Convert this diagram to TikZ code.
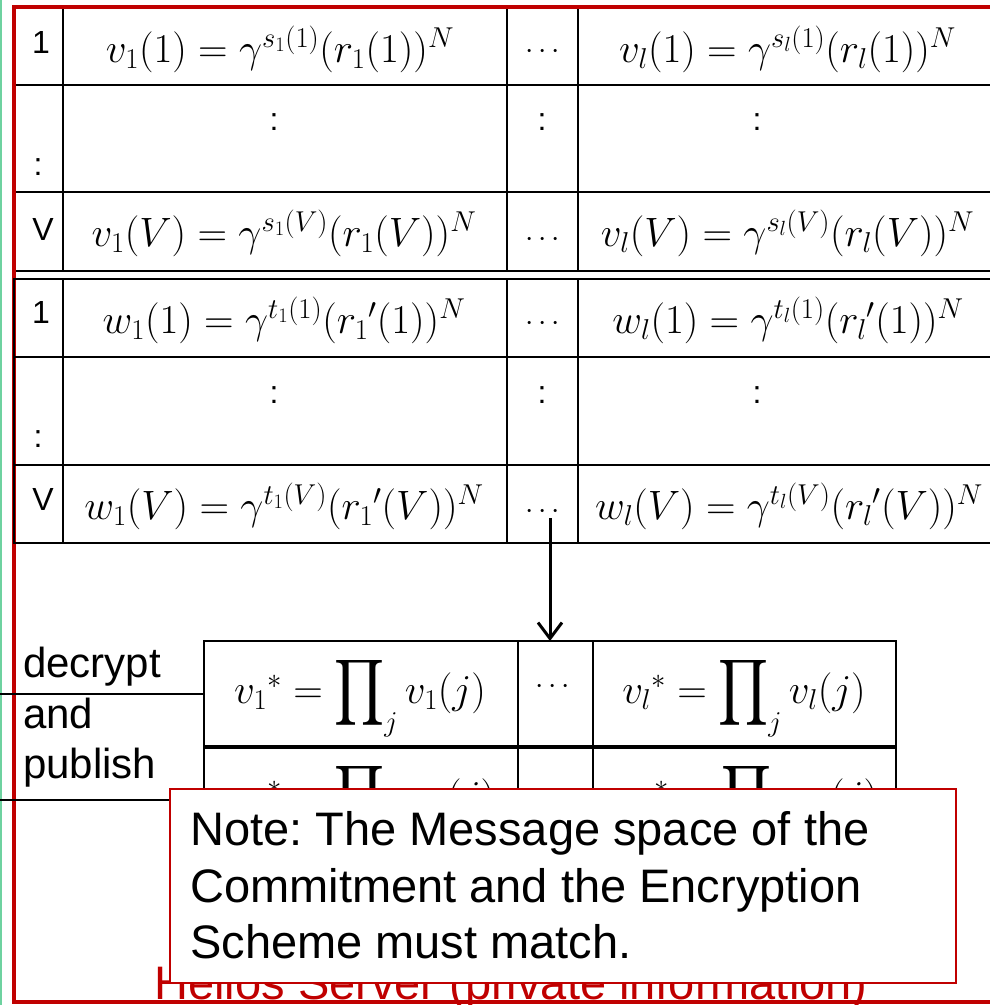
\RequirePackage{fix-cm}
\documentclass[tikz,border=0pt]{standalone}
\usepackage[no-math]{fontspec}
\setmainfont{Liberation Sans}
\usepackage{amsmath}
\usepackage{graphicx}
\usetikzlibrary{arrows.meta}
\definecolor{framered}{RGB}{192,0,0}
\definecolor{mint}{RGB}{110,210,160}
\frenchspacing
\newcommand\mkcell[5]{\node[cell,minimum width={#4-#2},minimum height={#5-#3}] (#1) at ({(#2+#4)/2},{(#3+#5)/2}) {};}
\newcommand\Bprod{\mathop{\vcenter{\hbox{\resizebox*{50pt}{74pt}{$\displaystyle\prod$}}}}\nolimits}
\begin{document}
\begin{tikzpicture}[x=1pt,y=-1pt,
  cell/.style={draw=black,line width=2.5pt,inner sep=0pt,outer sep=0pt},
  tbl/.style={font=\fontsize{32}{38}\selectfont,inner sep=0pt,anchor=base},
  mth/.style={font=\fontsize{41}{48}\selectfont,inner sep=0pt,anchor=base},
  dts/.style={font=\fontsize{30}{36}\selectfont,inner sep=0pt,anchor=base},
  lbl/.style={font=\fontsize{42}{50}\selectfont,inner sep=0pt,anchor=base west},
  notetxt/.style={font=\fontsize{47}{57}\selectfont,inner sep=0pt,anchor=base west},
  conn/.style={line width=3pt,-{Straight Barb[length=16pt,width=24pt]}},
  tline/.style={draw=black,line width=2.5pt}]
\useasboundingbox (0,0) rectangle (990,1005);
\clip (0,0) rectangle (990,1005);
% top table
\foreach \r/\ya/\yb in {1/8/85,2/85/192,3/192/271}{
  \foreach \c/\xa/\xb in {1/14/63,2/63/507,3/507/578,4/578/997}{
    \mkcell{A\r\c}{\xa}{\ya}{\xb}{\yb}}}
% red frame
\draw[framered,line width=4pt] (14,6.5) rectangle (1012,1002);
% second table
\foreach \r/\ya/\yb in {1/279/357,2/357/465,3/465/543}{
  \foreach \c/\xa/\xb in {1/14/63,2/63/507,3/507/578,4/578/997}{
    \mkcell{B\r\c}{\xa}{\ya}{\xb}{\yb}}}
% green edge
\draw[mint,line width=2.5pt] (1,0) -- (1,1005);
% bottom table
\foreach \r/\ya/\yb in {1/641/747,2/747/853}{
  \foreach \c/\xa/\xb in {1/204/518,2/518/593,3/593/896}{
    \mkcell{C\r\c}{\xa}{\ya}{\xb}{\yb}}}
\draw[black,line width=4.5pt] (C11.south west) -- (C13.south east);
% left partial lines
\coordinate (L1) at (0,694);
\coordinate (L2) at (0,800);
\draw[tline] (L1) -- (C11.west);
\draw[tline] (L2) -- (C21.west);
% first table texts
\node[tbl] (a1) at (41,53) {1};
\node[tbl] (a2) at (38,175) {:};
\node[tbl] (a3) at (43,240) {V};
\node[mth] (fa12) at (280,62) {$v_1(1)=\gamma^{s_1(1)}(r_1(1))^N$};
\node[dts] (fa13) at (545,58) {$\cdots$};
\node[mth] (fa14) at (787.5,62) {$v_l(1)=\gamma^{s_l(1)}(r_l(1))^N$};
\node[tbl] (fa22) at (274,130) {:};
\node[tbl] (fa23) at (542,130) {:};
\node[tbl] (fa24) at (757,130) {:};
\node[mth] (fa32) at (284,246) {$v_1(V)=\gamma^{s_1(V)}(r_1(V))^N$};
\node[dts] (fa33) at (545,246) {$\cdots$};
\node[mth] (fa34) at (787.5,246) {$v_l(V)=\gamma^{s_l(V)}(r_l(V))^N$};
% second table texts
\node[tbl] (b1) at (41,323) {1};
\node[tbl] (b2) at (38,447) {:};
\node[tbl] (b3) at (43,510) {V};
\node[mth] (fb12) at (284,333) {$w_1(1)=\gamma^{t_1(1)}({r_1}'(1))^N$};
\node[dts] (fb13) at (545,330) {$\cdots$};
\node[mth] (fb14) at (788,333) {$w_l(1)=\gamma^{t_l(1)}({r_l}'(1))^N$};
\node[tbl] (fb22) at (274,403) {:};
\node[tbl] (fb23) at (542,403) {:};
\node[tbl] (fb24) at (757,403) {:};
\node[mth] (fb32) at (284,519) {$w_1(V)=\gamma^{t_1(V)}({r_1}'(V))^N$};
\node[dts] (dB3) at (545,518) {$\cdots$};
\node[mth] (fb34) at (789,519) {$w_l(V)=\gamma^{t_l(V)}({r_l}'(V))^N$};
% bottom table texts
\node[mth] (fc11) at (360,703) {${v_1}^*=\Bprod_j v_1(j)$};
\node[dts] (fc12) at (555,693) {$\cdots$};
\node[mth] (fc13) at (744,703) {${v_l}^*=\Bprod_j v_l(j)$};
\node[mth] (fc21) at (360,809) {${w_1}^*=\Bprod_j w_1(j)$};
\node[mth] (fc23) at (747,809) {${w_l}^*=\Bprod_j w_l(j)$};
% labels left
\node[lbl] (dec) at (23,677) {decrypt};
\node[lbl] (and) at (23,728) {and};
\node[lbl] (pub) at (23,778) {publish};
% arrow
\draw[conn] ([xshift=5pt]dB3.south) -- ([xshift=5pt]dB3.south |- C12.north);
% Helios label
\node[font=\fontsize{47}{57}\selectfont,text=framered,inner sep=0pt,anchor=base] (hel) at (511,999) {Helios Server (private information)};
% note
\node[draw=framered,line width=2pt,fill=white,minimum width=786,minimum height=194,inner sep=0pt] (note) at (563,886) {};
\node[notetxt] (n1) at (190,845) {Note: The Message space of the};
\node[notetxt] (n2) at (190,902) {Commitment and the Encryption};
\node[notetxt] (n3) at (190,958) {Scheme must match.};
\end{tikzpicture}
\end{document}
